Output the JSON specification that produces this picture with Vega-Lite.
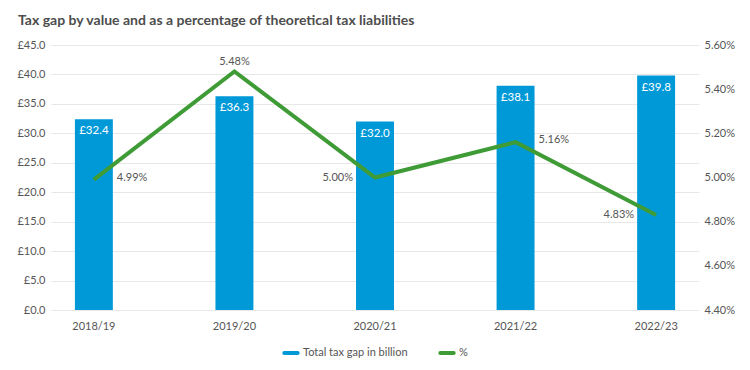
{
  "$schema": "https://vega.github.io/schema/vega-lite/v6.json",
  "width": 648,
  "height": 265,
  "autosize": "none",
  "padding": {"left": 51, "top": 45, "right": 51, "bottom": 60},
  "background": "white",
  "config": {
    "font": "Lato",
    "view": {"stroke": null},
    "locale": {"number": {"decimal": ".", "thousands": ",", "grouping": [3], "currency": ["£", ""]}},
    "axis": {"labelFont": "Lato", "labelFontSize": 11, "labelColor": "#555555", "domain": false, "ticks": false, "title": null, "labelOverlap": false}
  },
  "title": {
    "text": "Tax gap by value and as a percentage of theoretical tax liabilities",
    "anchor": "start",
    "frame": "group",
    "font": "Lato",
    "fontSize": 14,
    "fontWeight": "bold",
    "color": "#4d4d4d",
    "dx": -33,
    "offset": 11
  },
  "data": {
    "values": [
      {"year": "2018/19", "gap": 32.4, "pct": 0.0499},
      {"year": "2019/20", "gap": 36.3, "pct": 0.0548},
      {"year": "2020/21", "gap": 32.0, "pct": 0.0500},
      {"year": "2021/22", "gap": 38.1, "pct": 0.0516},
      {"year": "2022/23", "gap": 39.8, "pct": 0.0483}
    ]
  },
  "encoding": {
    "x": {
      "field": "year",
      "type": "nominal",
      "sort": null,
      "scale": {"paddingInner": 0.73, "paddingOuter": 0.17},
      "axis": {"labelAngle": 0, "labelPadding": 10, "grid": false}
    }
  },
  "layer": [
    {
      "encoding": {
        "y": {
          "field": "gap",
          "type": "quantitative",
          "scale": {"domain": [0, 45]},
          "axis": {"orient": "left", "values": [0, 5, 10, 15, 20, 25, 30, 35, 40, 45], "format": "$.1f", "grid": true, "gridColor": "#e8e8e8", "labelPadding": 6}
        }
      },
      "layer": [
        {
          "mark": {"type": "bar"},
          "encoding": {
            "color": {
              "datum": "Total tax gap in billion",
              "type": "nominal",
              "scale": {"domain": ["Total tax gap in billion", "%"], "range": ["#0099d8", "#3e9b35"]},
              "legend": {
                "orient": "none",
                "direction": "horizontal",
                "legendX": 231,
                "legendY": 299,
                "title": null,
                "symbolType": "stroke",
                "symbolSize": 180,
                "symbolStrokeWidth": 4,
                "labelFont": "Lato",
                "labelFontSize": 11,
                "labelColor": "#555555",
                "columnPadding": 24,
                "labelOffset": 3,
                "gridAlign": "none",
                "labelAlign": "left",
                "encode": {"symbols": {"update": {"stroke": {"scale": "color", "field": "value"}, "strokeWidth": {"value": 4}, "strokeCap": {"value": "round"}}}}
              }
            }
          }
        },
        {
          "mark": {"type": "text", "baseline": "top", "dy": 6, "color": "white", "fontSize": 11.5, "font": "Lato"},
          "encoding": {
            "text": {"field": "gap", "type": "quantitative", "format": "$.1f"}
          }
        }
      ]
    },
    {
      "encoding": {
        "y": {
          "field": "pct",
          "type": "quantitative",
          "scale": {"domain": [0.044, 0.056]},
          "axis": {"orient": "right", "values": [0.044, 0.046, 0.048, 0.05, 0.052, 0.054, 0.056], "format": ".2%", "grid": false, "labelPadding": 5}
        }
      },
      "layer": [
        {
          "mark": {"type": "line", "strokeWidth": 4},
          "encoding": {
            "color": {"datum": "%", "type": "nominal"}
          }
        },
        {
          "transform": [{"filter": {"field": "year", "oneOf": ["2018/19", "2021/22"]}}],
          "mark": {"type": "text", "align": "left", "baseline": "middle", "dx": 23, "dy": -2, "color": "#555555", "fontSize": 11},
          "encoding": {
            "text": {"field": "pct", "type": "quantitative", "format": ".2%"}
          }
        },
        {
          "transform": [{"filter": {"field": "year", "oneOf": ["2019/20"]}}],
          "mark": {"type": "text", "align": "center", "baseline": "bottom", "dy": -5, "color": "#555555", "fontSize": 11},
          "encoding": {
            "text": {"field": "pct", "type": "quantitative", "format": ".2%"}
          }
        },
        {
          "transform": [{"filter": {"field": "year", "oneOf": ["2020/21", "2022/23"]}}],
          "mark": {"type": "text", "align": "right", "baseline": "middle", "dx": -22, "dy": 0, "color": "#555555", "fontSize": 11},
          "encoding": {
            "text": {"field": "pct", "type": "quantitative", "format": ".2%"}
          }
        }
      ]
    }
  ],
  "resolve": {"scale": {"y": "independent"}}
}
